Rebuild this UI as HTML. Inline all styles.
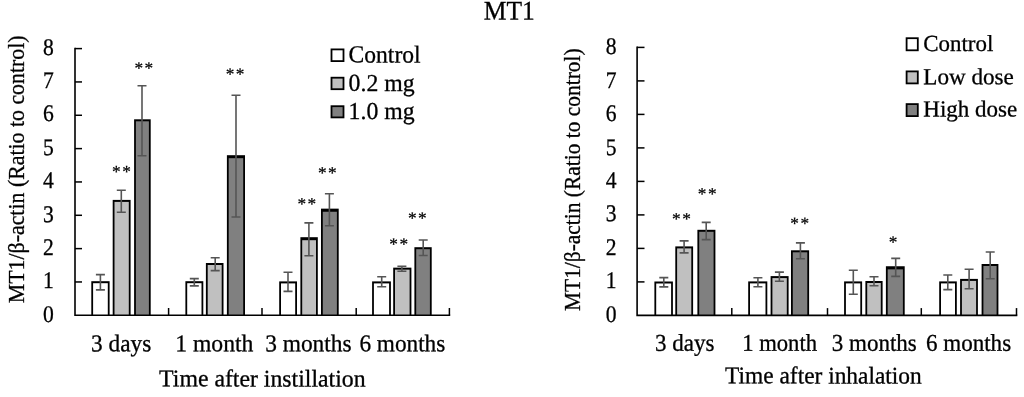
<!DOCTYPE html>
<html lang="en"><head><meta charset="utf-8"><title>MT1</title>
<style>html,body{margin:0;padding:0;background:#fff;}body{width:1024px;height:397px;overflow:hidden;}svg{display:block;}text{font-family:"Liberation Serif", "DejaVu Serif", serif;fill:#000;stroke:#000;stroke-width:0.3px;}.ax{stroke:#000;stroke-width:1.6;fill:none;stroke-linecap:square;}.tk{stroke:#000;stroke-width:1.5;fill:none;}.bar{stroke:#000;stroke-width:1.6;}.eb{stroke:#555;stroke-width:1.6;fill:none;}.t23{font-size:24px;}.lg{font-size:24.3px;}.yt{font-size:23.8px;}.ytl{font-size:22.8px;}.st{font-size:17.3px;stroke-width:0.25px;}</style></head><body>
<svg width="1024" height="397" viewBox="0 0 1024 397">
<rect x="0" y="0" width="1024" height="397" fill="#fff"/>
<text transform="rotate(0.03 509 19.6)" x="509.3" y="19.6" text-anchor="middle" style="font-size:26.8px" textLength="51" lengthAdjust="spacingAndGlyphs">MT1</text>
<rect x="91.30" y="281.20" width="18.30" height="34.10" fill="#000"/>
<rect x="93.10" y="283.20" width="14.70" height="32.10" fill="#ffffff"/>
<rect x="112.70" y="199.90" width="17.90" height="115.40" fill="#000"/>
<rect x="114.50" y="201.90" width="14.30" height="113.40" fill="#c0c0c0"/>
<rect x="134.10" y="119.30" width="16.60" height="196.00" fill="#000"/>
<rect x="135.90" y="121.30" width="13.00" height="194.00" fill="#808080"/>
<rect x="185.40" y="281.20" width="17.90" height="34.10" fill="#000"/>
<rect x="187.20" y="283.20" width="14.30" height="32.10" fill="#ffffff"/>
<rect x="205.90" y="263.00" width="17.60" height="52.30" fill="#000"/>
<rect x="207.70" y="265.00" width="14.00" height="50.30" fill="#c0c0c0"/>
<rect x="226.90" y="155.20" width="18.10" height="160.10" fill="#000"/>
<rect x="228.70" y="158.20" width="14.50" height="157.10" fill="#808080"/>
<rect x="279.20" y="281.40" width="17.80" height="33.90" fill="#000"/>
<rect x="281.00" y="283.40" width="14.20" height="31.90" fill="#ffffff"/>
<rect x="300.40" y="237.20" width="17.40" height="78.10" fill="#000"/>
<rect x="302.20" y="240.20" width="13.80" height="75.10" fill="#c0c0c0"/>
<rect x="321.00" y="208.65" width="17.70" height="106.65" fill="#000"/>
<rect x="322.80" y="211.75" width="14.10" height="103.55" fill="#808080"/>
<rect x="372.10" y="281.40" width="18.80" height="33.90" fill="#000"/>
<rect x="373.90" y="283.40" width="15.20" height="31.90" fill="#ffffff"/>
<rect x="393.20" y="267.65" width="18.20" height="47.65" fill="#000"/>
<rect x="395.00" y="269.65" width="14.60" height="45.65" fill="#c0c0c0"/>
<rect x="414.40" y="247.20" width="17.30" height="68.10" fill="#000"/>
<rect x="416.20" y="249.20" width="13.70" height="66.10" fill="#808080"/>
<path class="eb" d="M100.40 274.60V289.90M95.90 274.60H104.90M95.90 289.90H104.90"/>
<path class="eb" d="M121.30 190.30V212.20M116.80 190.30H125.80M116.80 212.20H125.80"/>
<path class="eb" d="M142.00 85.80V155.70M137.50 85.80H146.50M137.50 155.70H146.50"/>
<path class="eb" d="M194.30 278.60V285.90M189.80 278.60H198.80M189.80 285.90H198.80"/>
<path class="eb" d="M215.20 257.70V270.60M210.70 257.70H219.70M210.70 270.60H219.70"/>
<path class="eb" d="M236.00 95.20V217.00M231.50 95.20H240.50M231.50 217.00H240.50"/>
<path class="eb" d="M288.00 272.20V291.40M283.50 272.20H292.50M283.50 291.40H292.50"/>
<path class="eb" d="M308.90 222.90V255.70M304.40 222.90H313.40M304.40 255.70H313.40"/>
<path class="eb" d="M329.40 193.70V225.80M324.90 193.70H333.90M324.90 225.80H333.90"/>
<path class="eb" d="M381.70 276.80V286.70M377.20 276.80H386.20M377.20 286.70H386.20"/>
<path class="eb" d="M401.90 266.20V271.20M397.40 266.20H406.40M397.40 271.20H406.40"/>
<path class="eb" d="M423.20 240.00V255.50M418.70 240.00H427.70M418.70 255.50H427.70"/>
<path class="ax" d="M75.00 48.60V315.30H449.40"/>
<path class="tk" d="M75.00 281.96H82.00"/>
<path class="tk" d="M75.00 248.62H82.00"/>
<path class="tk" d="M75.00 215.29H82.00"/>
<path class="tk" d="M75.00 181.95H82.00"/>
<path class="tk" d="M75.00 148.61H82.00"/>
<path class="tk" d="M75.00 115.28H82.00"/>
<path class="tk" d="M75.00 81.94H82.00"/>
<path class="tk" d="M75.00 48.60H82.00"/>
<path class="tk" d="M168.60 315.30V308.00"/>
<path class="tk" d="M262.00 315.30V308.00"/>
<path class="tk" d="M356.20 315.30V308.00"/>
<path class="tk" d="M449.40 315.30V308.00"/>
<text class="yt" transform="rotate(0.03 53.70 321.90)" x="53.70" y="321.90" text-anchor="end" textLength="10.8" lengthAdjust="spacingAndGlyphs">0</text>
<text class="yt" transform="rotate(0.03 53.70 288.49)" x="53.70" y="288.49" text-anchor="end" textLength="10.8" lengthAdjust="spacingAndGlyphs">1</text>
<text class="yt" transform="rotate(0.03 53.70 255.08)" x="53.70" y="255.08" text-anchor="end" textLength="10.8" lengthAdjust="spacingAndGlyphs">2</text>
<text class="yt" transform="rotate(0.03 53.70 221.67)" x="53.70" y="221.67" text-anchor="end" textLength="10.8" lengthAdjust="spacingAndGlyphs">3</text>
<text class="yt" transform="rotate(0.03 53.70 188.26)" x="53.70" y="188.26" text-anchor="end" textLength="10.8" lengthAdjust="spacingAndGlyphs">4</text>
<text class="yt" transform="rotate(0.03 53.70 154.85)" x="53.70" y="154.85" text-anchor="end" textLength="10.8" lengthAdjust="spacingAndGlyphs">5</text>
<text class="yt" transform="rotate(0.03 53.70 121.44)" x="53.70" y="121.44" text-anchor="end" textLength="10.8" lengthAdjust="spacingAndGlyphs">6</text>
<text class="yt" transform="rotate(0.03 53.70 88.03)" x="53.70" y="88.03" text-anchor="end" textLength="10.8" lengthAdjust="spacingAndGlyphs">7</text>
<text class="yt" transform="rotate(0.03 53.70 54.62)" x="53.70" y="54.62" text-anchor="end" textLength="10.8" lengthAdjust="spacingAndGlyphs">8</text>
<text class="st" transform="rotate(0.03 121.40 177.30)" y="177.30" text-anchor="middle"><tspan x="116.35">*</tspan><tspan x="126.45">*</tspan></text>
<text class="st" transform="rotate(0.03 143.80 73.80)" y="73.80" text-anchor="middle"><tspan x="138.75">*</tspan><tspan x="148.85">*</tspan></text>
<text class="st" transform="rotate(0.03 235.00 79.80)" y="79.80" text-anchor="middle"><tspan x="229.95">*</tspan><tspan x="240.05">*</tspan></text>
<text class="st" transform="rotate(0.03 306.75 209.60)" y="209.60" text-anchor="middle"><tspan x="301.70">*</tspan><tspan x="311.80">*</tspan></text>
<text class="st" transform="rotate(0.03 327.35 178.60)" y="178.60" text-anchor="middle"><tspan x="322.30">*</tspan><tspan x="332.40">*</tspan></text>
<text class="st" transform="rotate(0.03 398.70 249.70)" y="249.70" text-anchor="middle"><tspan x="393.65">*</tspan><tspan x="403.75">*</tspan></text>
<text class="st" transform="rotate(0.03 417.30 223.70)" y="223.70" text-anchor="middle"><tspan x="412.25">*</tspan><tspan x="422.35">*</tspan></text>
<text class="t23" transform="rotate(0.03 121.20 351.30)" x="121.20" y="351.30" text-anchor="middle" textLength="60.2" lengthAdjust="spacingAndGlyphs">3 days</text>
<text class="t23" transform="rotate(0.03 214.30 351.30)" x="214.30" y="351.30" text-anchor="middle" textLength="78.2" lengthAdjust="spacingAndGlyphs">1 month</text>
<text class="t23" transform="rotate(0.03 308.40 351.30)" x="308.40" y="351.30" text-anchor="middle" textLength="86.4" lengthAdjust="spacingAndGlyphs">3 months</text>
<text class="t23" transform="rotate(0.03 402.35 351.30)" x="402.35" y="351.30" text-anchor="middle" textLength="85.9" lengthAdjust="spacingAndGlyphs">6 months</text>
<text class="t23" transform="rotate(0.03 262.35 386.40)" x="159.10" y="386.40" textLength="206.5" lengthAdjust="spacingAndGlyphs">Time after instillation</text>
<text class="ytl" transform="translate(23.90 303.20) rotate(-90)" x="0" y="0" textLength="267.8" lengthAdjust="spacingAndGlyphs">MT1/β-actin (Ratio to control)</text>
<rect x="331.50" y="49.40" width="12.00" height="11.70" fill="#ffffff" stroke="#000" stroke-width="1.8"/>
<text style="font-size:24.3px" transform="rotate(0.03 383.60 62.40)" x="348.60" y="62.40" textLength="72.0" lengthAdjust="spacingAndGlyphs">Control</text>
<rect x="331.50" y="77.70" width="12.00" height="11.50" fill="#c0c0c0" stroke="#000" stroke-width="1.8"/>
<text style="font-size:24.3px" transform="rotate(0.03 383.60 90.90)" x="348.60" y="90.90" textLength="66.0" lengthAdjust="spacingAndGlyphs">0.2 mg</text>
<rect x="331.50" y="106.20" width="12.00" height="11.20" fill="#808080" stroke="#000" stroke-width="1.8"/>
<text style="font-size:24.3px" transform="rotate(0.03 383.60 119.00)" x="348.60" y="119.00" textLength="66.0" lengthAdjust="spacingAndGlyphs">1.0 mg</text>
<rect x="654.40" y="281.50" width="18.50" height="33.90" fill="#000"/>
<rect x="656.20" y="283.50" width="14.90" height="31.90" fill="#ffffff"/>
<rect x="675.30" y="246.40" width="17.80" height="69.00" fill="#000"/>
<rect x="677.10" y="248.40" width="14.20" height="67.00" fill="#c0c0c0"/>
<rect x="697.40" y="229.80" width="18.00" height="85.60" fill="#000"/>
<rect x="699.20" y="231.80" width="14.40" height="83.60" fill="#808080"/>
<rect x="748.20" y="281.40" width="19.10" height="34.00" fill="#000"/>
<rect x="750.00" y="283.40" width="15.50" height="32.00" fill="#ffffff"/>
<rect x="770.60" y="276.10" width="18.00" height="39.30" fill="#000"/>
<rect x="772.40" y="278.10" width="14.40" height="37.30" fill="#c0c0c0"/>
<rect x="791.00" y="250.30" width="18.10" height="65.10" fill="#000"/>
<rect x="792.80" y="252.30" width="14.50" height="63.10" fill="#808080"/>
<rect x="844.10" y="281.40" width="18.00" height="34.00" fill="#000"/>
<rect x="845.90" y="283.40" width="14.40" height="32.00" fill="#ffffff"/>
<rect x="865.40" y="281.00" width="17.20" height="34.40" fill="#000"/>
<rect x="867.20" y="283.00" width="13.60" height="32.40" fill="#c0c0c0"/>
<rect x="885.90" y="266.25" width="18.80" height="49.15" fill="#000"/>
<rect x="887.70" y="269.35" width="15.20" height="46.05" fill="#808080"/>
<rect x="939.20" y="281.40" width="17.60" height="34.00" fill="#000"/>
<rect x="941.00" y="283.40" width="14.00" height="32.00" fill="#ffffff"/>
<rect x="960.10" y="278.90" width="17.80" height="36.50" fill="#000"/>
<rect x="961.90" y="280.90" width="14.20" height="34.50" fill="#c0c0c0"/>
<rect x="981.60" y="264.00" width="16.80" height="51.40" fill="#000"/>
<rect x="983.40" y="266.00" width="13.20" height="49.40" fill="#808080"/>
<path class="eb" d="M663.80 277.60V286.90M659.30 277.60H668.30M659.30 286.90H668.30"/>
<path class="eb" d="M684.10 240.90V252.90M679.60 240.90H688.60M679.60 252.90H688.60"/>
<path class="eb" d="M706.20 222.40V239.60M701.70 222.40H710.70M701.70 239.60H710.70"/>
<path class="eb" d="M757.90 277.70V286.70M753.40 277.70H762.40M753.40 286.70H762.40"/>
<path class="eb" d="M779.40 272.10V281.25M774.90 272.10H783.90M774.90 281.25H783.90"/>
<path class="eb" d="M800.40 242.90V258.80M795.90 242.90H804.90M795.90 258.80H804.90"/>
<path class="eb" d="M853.30 270.30V294.30M848.80 270.30H857.80M848.80 294.30H857.80"/>
<path class="eb" d="M874.00 276.80V285.70M869.50 276.80H878.50M869.50 285.70H878.50"/>
<path class="eb" d="M895.70 258.40V276.40M891.20 258.40H900.20M891.20 276.40H900.20"/>
<path class="eb" d="M947.80 275.00V289.60M943.30 275.00H952.30M943.30 289.60H952.30"/>
<path class="eb" d="M969.10 269.30V288.70M964.60 269.30H973.60M964.60 288.70H973.60"/>
<path class="eb" d="M990.20 252.00V278.70M985.70 252.00H994.70M985.70 278.70H994.70"/>
<path class="ax" d="M637.10 47.40V315.40H1016.50"/>
<path class="tk" d="M637.10 281.90H644.50"/>
<path class="tk" d="M637.10 248.40H644.50"/>
<path class="tk" d="M637.10 214.90H644.50"/>
<path class="tk" d="M637.10 181.40H644.50"/>
<path class="tk" d="M637.10 147.90H644.50"/>
<path class="tk" d="M637.10 114.40H644.50"/>
<path class="tk" d="M637.10 80.90H644.50"/>
<path class="tk" d="M637.10 47.40H644.50"/>
<path class="tk" d="M731.80 315.40V308.10"/>
<path class="tk" d="M827.50 315.40V308.10"/>
<path class="tk" d="M921.30 315.40V308.10"/>
<path class="tk" d="M1016.50 315.40V308.10"/>
<text class="yt" transform="rotate(0.03 616.50 321.60)" x="616.50" y="321.60" text-anchor="end" textLength="10.8" lengthAdjust="spacingAndGlyphs">0</text>
<text class="yt" transform="rotate(0.03 616.50 288.21)" x="616.50" y="288.21" text-anchor="end" textLength="10.8" lengthAdjust="spacingAndGlyphs">1</text>
<text class="yt" transform="rotate(0.03 616.50 254.82)" x="616.50" y="254.82" text-anchor="end" textLength="10.8" lengthAdjust="spacingAndGlyphs">2</text>
<text class="yt" transform="rotate(0.03 616.50 221.43)" x="616.50" y="221.43" text-anchor="end" textLength="10.8" lengthAdjust="spacingAndGlyphs">3</text>
<text class="yt" transform="rotate(0.03 616.50 188.04)" x="616.50" y="188.04" text-anchor="end" textLength="10.8" lengthAdjust="spacingAndGlyphs">4</text>
<text class="yt" transform="rotate(0.03 616.50 154.65)" x="616.50" y="154.65" text-anchor="end" textLength="10.8" lengthAdjust="spacingAndGlyphs">5</text>
<text class="yt" transform="rotate(0.03 616.50 121.26)" x="616.50" y="121.26" text-anchor="end" textLength="10.8" lengthAdjust="spacingAndGlyphs">6</text>
<text class="yt" transform="rotate(0.03 616.50 87.87)" x="616.50" y="87.87" text-anchor="end" textLength="10.8" lengthAdjust="spacingAndGlyphs">7</text>
<text class="yt" transform="rotate(0.03 616.50 54.48)" x="616.50" y="54.48" text-anchor="end" textLength="10.8" lengthAdjust="spacingAndGlyphs">8</text>
<text class="st" transform="rotate(0.03 681.40 224.40)" y="224.40" text-anchor="middle"><tspan x="676.35">*</tspan><tspan x="686.45">*</tspan></text>
<text class="st" transform="rotate(0.03 707.15 199.40)" y="199.40" text-anchor="middle"><tspan x="702.10">*</tspan><tspan x="712.20">*</tspan></text>
<text class="st" transform="rotate(0.03 799.70 229.10)" y="229.10" text-anchor="middle"><tspan x="794.65">*</tspan><tspan x="804.75">*</tspan></text>
<text class="st" transform="rotate(0.03 893.10 247.70)" x="893.10" y="247.70" text-anchor="middle">*</text>
<text class="t23" transform="rotate(0.03 684.70 350.80)" x="684.70" y="350.80" text-anchor="middle" textLength="59.4" lengthAdjust="spacingAndGlyphs">3 days</text>
<text class="t23" transform="rotate(0.03 779.60 350.80)" x="779.60" y="350.80" text-anchor="middle" textLength="74.8" lengthAdjust="spacingAndGlyphs">1 month</text>
<text class="t23" transform="rotate(0.03 874.30 350.80)" x="874.30" y="350.80" text-anchor="middle" textLength="85.0" lengthAdjust="spacingAndGlyphs">3 months</text>
<text class="t23" transform="rotate(0.03 968.55 350.80)" x="968.55" y="350.80" text-anchor="middle" textLength="85.1" lengthAdjust="spacingAndGlyphs">6 months</text>
<text class="t23" transform="rotate(0.03 823.40 383.40)" x="725.10" y="383.40" textLength="196.6" lengthAdjust="spacingAndGlyphs">Time after inhalation</text>
<text class="ytl" transform="translate(580.00 311.00) rotate(-90)" x="0" y="0" textLength="262.6" lengthAdjust="spacingAndGlyphs">MT1/β-actin (Ratio to control)</text>
<rect x="906.60" y="38.20" width="11.20" height="12.10" fill="#ffffff" stroke="#000" stroke-width="1.8"/>
<text style="font-size:23.0px" transform="rotate(0.03 958.30 51.10)" x="923.30" y="51.10" textLength="70.0" lengthAdjust="spacingAndGlyphs">Control</text>
<rect x="906.60" y="71.40" width="11.20" height="12.00" fill="#c0c0c0" stroke="#000" stroke-width="1.8"/>
<text style="font-size:23.0px" transform="rotate(0.03 958.30 84.20)" x="923.30" y="84.20" textLength="90.5" lengthAdjust="spacingAndGlyphs">Low dose</text>
<rect x="906.60" y="104.10" width="11.20" height="12.00" fill="#808080" stroke="#000" stroke-width="1.8"/>
<text style="font-size:23.0px" transform="rotate(0.03 958.30 116.60)" x="923.30" y="116.60" textLength="93.8" lengthAdjust="spacingAndGlyphs">High dose</text>
</svg></body></html>
